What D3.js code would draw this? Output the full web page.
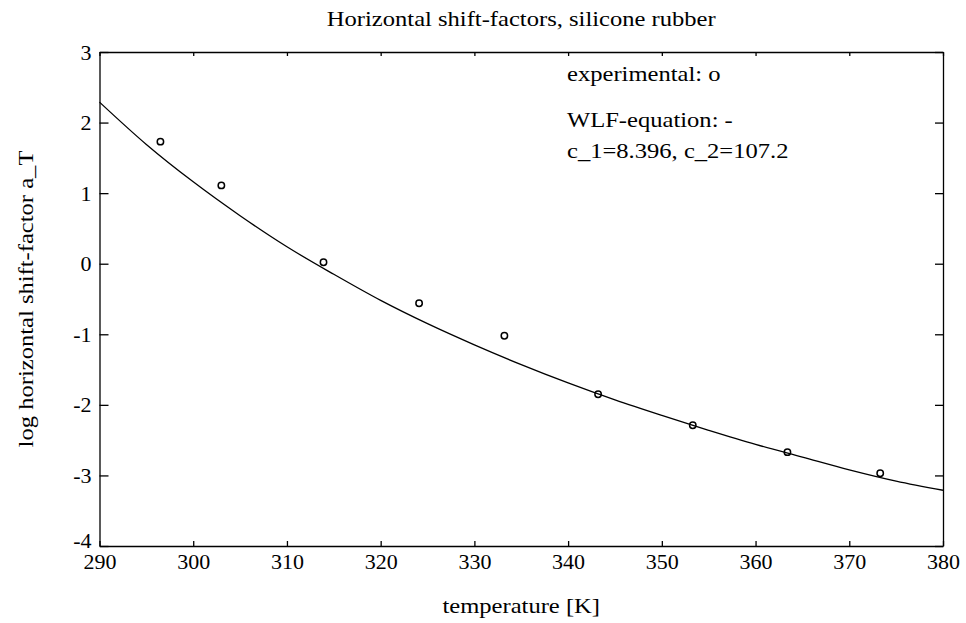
<!DOCTYPE html>
<html>
<head>
<meta charset="utf-8">
<script src="https://cdn.jsdelivr.net/npm/d3@7"></script>
<style>
  body { margin: 0; background: #fff; }
  .axis path, .axis line { stroke: #000; stroke-width: 1.3; }
</style>
</head>
<body>
<svg id="chart" width="966" height="623"></svg>
<script>
// experimental shift factors
var expTemp = [296.5, 303.0, 313.9, 324.1, 333.2, 343.2, 353.3, 363.4, 373.3];
var expLogAT = [1.73, 1.11, 0.02, -0.56, -1.02, -1.85, -2.29, -2.67, -2.97];

// WLF fitted curve, values read at every 5 K
var fitTemp = [290, 295, 300, 305, 310, 315, 320, 325, 330, 335, 340, 345, 350, 355, 360, 365, 370, 375, 380];
var fitLogAT = [2.29, 1.69, 1.16, 0.68, 0.24, -0.15, -0.52, -0.85, -1.15, -1.43, -1.69, -1.93, -2.15, -2.36, -2.56, -2.74, -2.92, -3.08, -3.21];

var xTicks = [290, 300, 310, 320, 330, 340, 350, 360, 370, 380];
var yTicks = [-4, -3, -2, -1, 0, 1, 2, 3];

var titleText = "Horizontal shift-factors, silicone rubber";
var xLabel = "temperature [K]";
var yLabel = "log horizontal shift-factor a_T";
var legendLines = ["experimental: o", "WLF-equation: -", "c_1=8.396, c_2=107.2"];

var svg = d3.select("#chart"),
  margin = {top: 52, right: 23, bottom: 77, left: 99.5},
  width = 966 - margin.left - margin.right,
  height = 623 - margin.top - margin.bottom,
  stretch = 1.17,
  serif = "Liberation Serif";

var g = svg.append("g").attr("transform", "translate(" + margin.left + "," + margin.top + ")");

var x = d3.scaleLinear().domain([290, 380]).range([0, width]);
var y = d3.scaleLinear().domain([-4, 3]).range([height, 0]);

var fmt = function (d) { return String(d); };

var xAxis = g.append("g")
  .attr("class", "axis")
  .attr("transform", "translate(0," + height + ")")
  .call(d3.axisBottom(x).tickValues(xTicks).tickFormat(fmt).tickSize(-5).tickSizeOuter(0).tickPadding(7));
xAxis.selectAll("text").style("font-family", serif).style("font-size", "22px");

var yAxis = g.append("g")
  .attr("class", "axis")
  .call(d3.axisLeft(y).tickValues(yTicks).tickFormat(fmt).tickSize(-9).tickSizeOuter(0).tickPadding(8));
yAxis.selectAll("text").style("font-family", serif).style("font-size", "22px");
// the bottom label sits a little higher so it clears "290"
yAxis.selectAll(".tick text").filter(function (d) { return d === -4; }).attr("dy", "0.05em");

g.append("g")
  .attr("class", "axis")
  .call(d3.axisTop(x).tickValues(xTicks).tickFormat("").tickSize(-4).tickSizeOuter(0));

g.append("g")
  .attr("class", "axis")
  .attr("transform", "translate(" + width + ",0)")
  .call(d3.axisRight(y).tickValues(yTicks).tickFormat("").tickSize(-8).tickSizeOuter(0));

g.selectAll(".axis .domain").attr("fill", "none");

var line = d3.line()
  .x(function (d, i) { return x(fitTemp[i]); })
  .y(function (d) { return y(d); })
  .curve(d3.curveMonotoneX);

g.append("path")
  .datum(fitLogAT)
  .attr("fill", "none")
  .attr("stroke", "#000")
  .attr("stroke-width", 1.3)
  .attr("d", line);

g.append("g")
  .selectAll("circle")
  .data(expLogAT)
  .enter().append("circle")
  .attr("cx", function (d, i) { return x(expTemp[i]); })
  .attr("cy", function (d) { return y(d); })
  .attr("r", 3.2)
  .attr("fill", "none")
  .attr("stroke", "#000")
  .attr("stroke-width", 1.5);

// stretch text horizontally a little, like the scanned original
function widen(sel) {
  sel.each(function () {
    var len = this.getComputedTextLength();
    d3.select(this).attr("textLength", len * stretch).attr("lengthAdjust", "spacingAndGlyphs");
  });
}

function label(sel) {
  sel.style("font-family", serif).style("font-size", "21px").style("fill", "#000");
}

svg.append("text")
  .attr("x", margin.left + width / 2)
  .attr("y", 26)
  .attr("text-anchor", "middle")
  .call(label)
  .text(titleText)
  .call(widen);

svg.append("text")
  .attr("x", margin.left + width / 2)
  .attr("y", 613)
  .attr("text-anchor", "middle")
  .call(label)
  .text(xLabel)
  .call(widen);

svg.append("text")
  .attr("transform", "translate(33," + (margin.top + height / 2) + ") rotate(-90)")
  .attr("text-anchor", "middle")
  .call(label)
  .text(yLabel)
  .call(widen);

var legendY = [81, 127, 158];
svg.append("g")
  .selectAll("text")
  .data(legendLines)
  .enter().append("text")
  .attr("x", 567)
  .attr("y", function (d, i) { return legendY[i]; })
  .call(label)
  .text(function (d) { return d; })
  .call(widen);
</script>
</body>
</html>
